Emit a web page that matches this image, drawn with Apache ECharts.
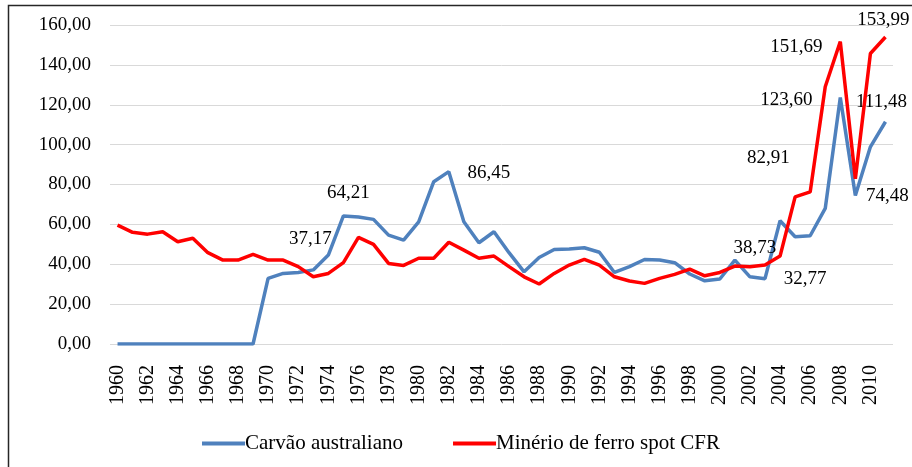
<!DOCTYPE html>
<html>
<head>
<meta charset="utf-8">
<script src="https://cdn.jsdelivr.net/npm/echarts@6/dist/echarts.min.js"></script>
<style>
  html, body { margin: 0; padding: 0; background: #fff; }
  #chart { width: 912px; height: 467px; }
</style>
</head>
<body>
<div id="chart"></div>
<script>
// anos 1960-2011
const years = [];
for (let y = 1960; y <= 2011; y++) years.push(String(y));

// Carvão australiano (US$/t)
const carvao = [
  0, 0, 0, 0, 0, 0, 0, 0, 0, 0,
  32.9, 35.4, 35.9, 37.17, 44.6, 64.21, 63.7, 62.5, 54.6, 52.1,
  61.3, 81.4, 86.45, 61.3, 50.8, 56.3, 45.8, 36.2, 43.4, 47.4,
  47.6, 48.3, 46.0, 35.9, 38.8, 42.4, 42.1, 40.8, 35.1, 31.7,
  32.6, 42.1, 33.7, 32.77, 61.8, 53.8, 54.3, 68.0, 123.60, 74.48,
  98.9, 111.48
];

// Minério de ferro spot CFR (US$/t)
const minerio = [
  59.6, 56.0, 55.1, 56.3, 51.3, 53.0, 45.8, 42.1, 42.1, 45.0,
  42.1, 42.1, 38.8, 33.7, 35.4, 40.8, 53.5, 50.0, 40.4, 39.4,
  43.0, 43.0, 51.0, 47.1, 43.0, 44.1, 38.8, 33.7, 30.1, 35.4,
  39.6, 42.5, 39.6, 33.7, 31.6, 30.4, 32.9, 34.9, 37.6, 34.2,
  35.9, 39.1, 38.73, 39.6, 44.1, 73.8, 76.3, 129.0, 151.69, 82.91,
  145.7, 153.99
];

// rótulos destacados: ano -> deslocamento [dx, dy] do texto
const carvaoLabels = { 1973: [-3, -31], 1975: [5, -23], 1982: [40, 1], 2003: [40, 0], 2008: [-54, 2], 2009: [32, 1], 2011: [-4, -20] };
const minerioLabels = { 2002: [5, -19], 2008: [-44, 5], 2009: [-87, -21], 2011: [-2, -17] };

const FONT = '"Liberation Serif", "Times New Roman", serif';

function fmt(v) {
  return Number(v).toFixed(2).replace('.', ',');
}

function buildData(values, labels) {
  return values.map((v, i) => {
    const off = labels[years[i]];
    if (!off) return v;
    return {
      value: v,
      label: {
        show: true,
        position: 'inside',
        offset: off,
        formatter: (p) => fmt(p.value),
        color: '#000',
        fontFamily: FONT,
        fontSize: 19
      }
    };
  });
}

const chart = echarts.init(document.getElementById('chart'), null, { renderer: 'canvas' });

chart.setOption({
  backgroundColor: '#fff',
  animation: false,
  graphic: [{
    type: 'rect',
    shape: { x: 8.5, y: 5.5, width: 1000, height: 1000 },
    style: { fill: 'none', stroke: '#262626', lineWidth: 1.5 },
    silent: true
  }],
  grid: { left: 110, right: 19, top: 25, bottom: 123 },
  legend: {
    left: 197,
    top: 428,
    icon: 'rect',
    itemWidth: 43,
    itemHeight: 4,
    itemGap: 50,
    textStyle: { fontFamily: FONT, fontSize: 21, color: '#000', padding: [0, 0, 0, -5] },
    data: ['Carvão australiano', 'Minério de ferro spot CFR']
  },
  xAxis: {
    type: 'category',
    data: years,
    boundaryGap: true,
    axisLine: { show: false },
    axisTick: { show: false },
    axisLabel: {
      interval: 1,
      rotate: 90,
      margin: 21,
      color: '#000',
      fontFamily: FONT,
      fontSize: 20
    }
  },
  yAxis: {
    type: 'value',
    min: 0,
    max: 160,
    interval: 20,
    axisLine: { show: false },
    axisTick: { show: false },
    splitLine: { lineStyle: { color: '#d9d9d9', width: 1 } },
    axisLabel: {
      margin: 19,
      color: '#000',
      fontFamily: FONT,
      fontSize: 19,
      formatter: fmt
    }
  },
  series: [
    {
      name: 'Carvão australiano',
      type: 'line',
      data: buildData(carvao, carvaoLabels),
      symbol: 'circle',
      symbolSize: 0.1,
      showSymbol: true,
      itemStyle: { color: '#4f81bd' },
      lineStyle: { color: '#4f81bd', width: 3.5 },
      z: 2
    },
    {
      name: 'Minério de ferro spot CFR',
      type: 'line',
      data: buildData(minerio, minerioLabels),
      symbol: 'circle',
      symbolSize: 0.1,
      showSymbol: true,
      itemStyle: { color: '#ff0000' },
      lineStyle: { color: '#ff0000', width: 3.5 },
      z: 3
    }
  ]
});
</script>
</body>
</html>
